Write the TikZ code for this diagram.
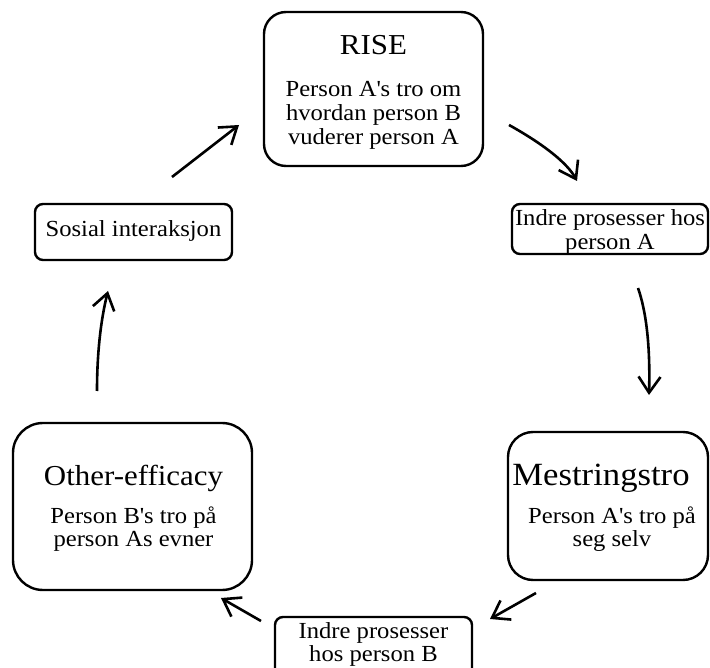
\documentclass[tikz,border=0pt]{standalone}
\usepackage{fontspec}
\setmainfont{Liberation Serif}[FakeStretch=1.07]
\usetikzlibrary{arrows.meta}
\newcommand{\bodyfnt}{\fontsize{23}{23.8}\selectfont}
\newcommand{\titlefnt}{\fontsize{28.9}{32}\selectfont}
\newcommand{\bigtitlefnt}{\fontsize{32.4}{35}\selectfont}
\newcommand{\apo}{\textquotesingle}
\begin{document}
\begin{tikzpicture}[x=1pt,y=-1pt,
  box/.style={draw=black, line width=2.4pt, fill=none, inner sep=0pt},
  txt/.style={inner sep=0pt, anchor=base, align=center},
  arr/.style={line width=2.6pt, -{Straight Barb[length=16pt,width=22pt]}}]
\useasboundingbox (0,0) rectangle (710,668);
\clip (0,0) rectangle (710,668);

% boxes
\node[box, rounded corners=22pt, minimum width=219pt, minimum height=154pt] (rise) at (373.5,89) {};
\node[box, rounded corners=8pt, minimum width=196pt, minimum height=50pt] (indA) at (610,229) {};
\node[box, rounded corners=25pt, minimum width=200pt, minimum height=148pt] (mest) at (608,506) {};
\node[box, rounded corners=8pt, minimum width=197pt, minimum height=59pt] (indB) at (373.5,646.5) {};
\node[box, rounded corners=30pt, minimum width=239pt, minimum height=167pt] (other) at (132.5,506.5) {};
\node[box, rounded corners=8pt, minimum width=197pt, minimum height=56pt] (sos) at (133.5,232) {};

% texts
\node[txt] (riseT) at (373.5,55) {\titlefnt RISE};
\node[txt] (riseB) at (373.5,97) {\bodyfnt\begin{tabular}[t]{@{}c@{}}Person A\apo s tro om\\hvordan person B\\vuderer person A\end{tabular}};
\node[txt] (indAT) at (610,225.5) {\bodyfnt\begin{tabular}[t]{@{}c@{}}Indre prosesser hos\\person A\end{tabular}};
\node[txt] (mestT) at (601,485) {\bigtitlefnt Mestringstro};
\node[txt] (mestB) at (612,523) {\bodyfnt\begin{tabular}[t]{@{}c@{}}Person A\apo s tro på\\seg selv\end{tabular}};
\node[txt] (indBT) at (373.5,638) {\bodyfnt\begin{tabular}[t]{@{}c@{}}Indre prosesser\\hos person B\end{tabular}};
\node[txt] (otherT) at (133.5,485) {\titlefnt Other-efficacy};
\node[txt] (otherB) at (133.5,523) {\bodyfnt\begin{tabular}[t]{@{}c@{}}Person B\apo s tro på\\person As evner\end{tabular}};
\node[txt] (sosT) at (133.5,237) {\bodyfnt Sosial interaksjon};

% arrow end points
\coordinate (a1s) at (172,177); \coordinate (a1e) at (239,125);
\coordinate (a2s) at (509,125); \coordinate (a2e) at (577,181);
\coordinate (a3s) at (638,288); \coordinate (a3e) at (649,395);
\coordinate (a4s) at (536,593); \coordinate (a4e) at (490,619);
\coordinate (a5s) at (261,621); \coordinate (a5e) at (221,598);
\coordinate (a6s) at (97,391);  \coordinate (a6e) at (108,291);

\draw[arr] (a1s) -- (a1e);
\draw[arr] (a2s) .. controls (545,145) and (567.7,163.7) .. (a2e);
\draw[arr] (a3s) .. controls (646.7,312.7) and (650.3,348.3) .. (a3e);
\draw[arr] (a4s) -- (a4e);
\draw[arr] (a5s) -- (a5e);
\draw[arr] (a6s) .. controls (97,353.7) and (100.7,320.3) .. (a6e);
\end{tikzpicture}
\end{document}
